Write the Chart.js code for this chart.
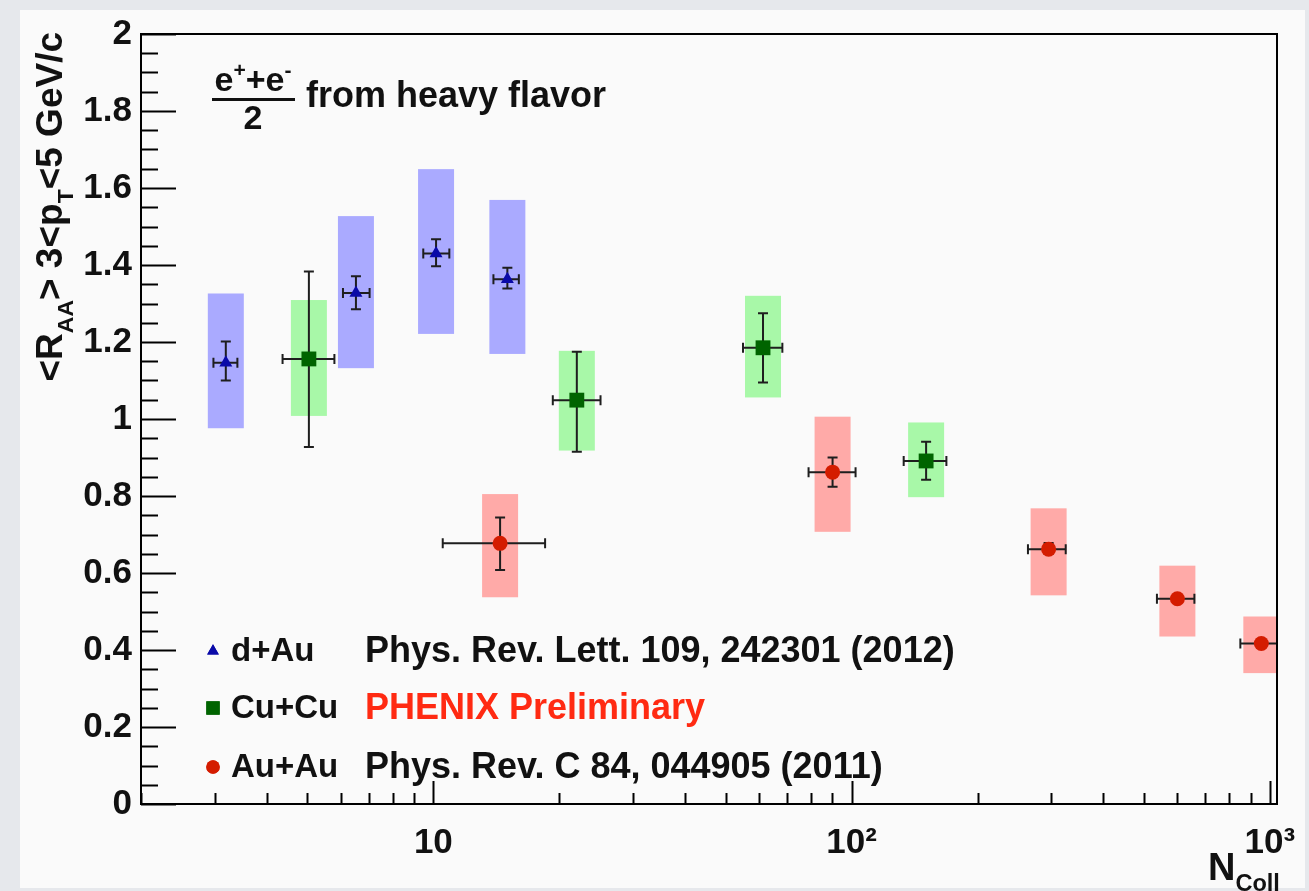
<!DOCTYPE html>
<html>
<head>
<meta charset="utf-8">
<title>RAA vs Ncoll</title>
<script src="https://cdn.jsdelivr.net/npm/chart.js@4.4.0/dist/chart.umd.min.js"></script>
<style>
  html, body { margin: 0; padding: 0; background: #e6e8ec; }
  #panel { position: absolute; left: 20px; top: 10px; width: 1285px; height: 878px; background: #fafafa; }
  #wrap { position: absolute; left: 0; top: 0; width: 1309px; height: 891px; }
</style>
</head>
<body>
<div id="panel"></div>
<div id="wrap"><canvas id="myChart" width="1309" height="891"></canvas></div>
<script>
// d+Au (blue triangles)
var dAuN       = [3.19, 6.53, 10.15, 15.03];
var dAuNLow    = [2.98, 6.08, 9.46, 13.92];
var dAuNHigh   = [3.40, 7.04, 10.92, 16.01];
var dAuR       = [1.146, 1.327, 1.430, 1.363];
var dAuStatLow = [1.100, 1.285, 1.397, 1.339];
var dAuStatHigh= [1.201, 1.371, 1.467, 1.393];
var dAuSysLow  = [0.976, 1.132, 1.221, 1.169];
var dAuSysHigh = [1.326, 1.527, 1.649, 1.569];

// Cu+Cu (green squares)
var cuN       = [5.04, 22.03, 61.4, 150.7];
var cuNLow    = [4.36, 19.3, 55.0, 133.2];
var cuNHigh   = [5.80, 25.1, 68.3, 168.5];
var cuR       = [1.156, 1.049, 1.185, 0.891];
var cuStatLow = [0.927, 0.915, 1.095, 0.842];
var cuStatHigh= [1.383, 1.175, 1.275, 0.941];
var cuSysLow  = [1.008, 0.918, 1.056, 0.797];
var cuSysHigh = [1.309, 1.177, 1.320, 0.991];

// Au+Au (red circles)
var auN       = [14.44, 90.05, 295.8, 601, 954];
var auNLow    = [10.53, 78.9, 264, 537, 850];
var auNHigh   = [18.5, 102.2, 325, 660, 1065];
var auR       = [0.677, 0.862, 0.662, 0.533, 0.417];
var auStatLow = [0.608, 0.824, 0.650, 0.527, 0.411];
var auStatHigh= [0.744, 0.900, 0.678, 0.539, 0.423];
var auSysLow  = [0.537, 0.707, 0.542, 0.435, 0.340];
var auSysHigh = [0.805, 1.006, 0.768, 0.619, 0.487];

var seriesNames = ['d+Au', 'Cu+Cu', 'Au+Au'];
var refTexts    = ['Phys. Rev. Lett. 109, 242301 (2012)', 'PHENIX Preliminary', 'Phys. Rev. C 84, 044905 (2011)'];

var xTickValues = [10, 100, 1000];
var xTickLabels = ['10', '10\u00b2', '10\u00b3'];

var FONT = '"Liberation Sans", Arial, Helvetica, sans-serif';
var BOX_HALF = 18;
var CAP = 5;

var series = [
  { n: dAuN, nLo: dAuNLow, nHi: dAuNHigh, r: dAuR, sLo: dAuStatLow, sHi: dAuStatHigh, yLo: dAuSysLow, yHi: dAuSysHigh, box: '#aaaaff' },
  { n: cuN, nLo: cuNLow, nHi: cuNHigh, r: cuR, sLo: cuStatLow, sHi: cuStatHigh, yLo: cuSysLow, yHi: cuSysHigh, box: '#a8f8a8' },
  { n: auN, nLo: auNLow, nHi: auNHigh, r: auR, sLo: auStatLow, sHi: auStatHigh, yLo: auSysLow, yHi: auSysHigh, box: '#ffaaa8' }
];

function pts(xs, ys) {
  return xs.map(function (x, i) { return { x: x, y: ys[i] }; });
}

// text with sub/superscripts: runs = [[text, 0|1|-1], ...]
function runsWidth(ctx, runs, size) {
  var w = 0;
  runs.forEach(function (r) {
    ctx.font = 'bold ' + (r[1] ? size * 0.62 : size) + 'px ' + FONT;
    w += ctx.measureText(r[0]).width;
  });
  return w;
}
function drawRuns(ctx, x, y, runs, size) {
  var cx = x;
  runs.forEach(function (r) {
    ctx.font = 'bold ' + (r[1] ? size * 0.62 : size) + 'px ' + FONT;
    var dy = r[1] === 1 ? -size * 0.42 : (r[1] === -1 ? size * 0.3 : 0);
    ctx.fillText(r[0], cx, y + dy);
    cx += ctx.measureText(r[0]).width;
  });
}

/*
# boxes (systematics) and error bars, under the markers
*/
var errPlugin = {
  id: 'errPlugin',
  beforeDatasetsDraw: function (chart) {
    var ctx = chart.ctx, xs = chart.scales.x, ys = chart.scales.y, a = chart.chartArea;
    ctx.save();
    ctx.beginPath();
    ctx.rect(a.left, a.top, a.right - a.left, a.bottom - a.top);
    ctx.clip();
    series.forEach(function (s) {
      ctx.fillStyle = s.box;
      s.n.forEach(function (n, i) {
        var px = xs.getPixelForValue(n);
        var t = ys.getPixelForValue(s.yHi[i]), b = ys.getPixelForValue(s.yLo[i]);
        ctx.fillRect(px - BOX_HALF, t, 2 * BOX_HALF, b - t);
      });
    });
    ctx.strokeStyle = '#1e1e1e';
    ctx.lineWidth = 2;
    series.forEach(function (s) {
      s.n.forEach(function (n, i) {
        var px = xs.getPixelForValue(n), py = ys.getPixelForValue(s.r[i]);
        var x1 = xs.getPixelForValue(s.nLo[i]), x2 = xs.getPixelForValue(s.nHi[i]);
        var y1 = ys.getPixelForValue(s.sHi[i]), y2 = ys.getPixelForValue(s.sLo[i]);
        ctx.beginPath();
        ctx.moveTo(x1, py); ctx.lineTo(x2, py);
        ctx.moveTo(x1, py - CAP); ctx.lineTo(x1, py + CAP);
        ctx.moveTo(x2, py - CAP); ctx.lineTo(x2, py + CAP);
        ctx.moveTo(px, y1); ctx.lineTo(px, y2);
        ctx.moveTo(px - CAP, y1); ctx.lineTo(px + CAP, y1);
        ctx.moveTo(px - CAP, y2); ctx.lineTo(px + CAP, y2);
        ctx.stroke();
      });
    });
    ctx.restore();
  },
  afterDraw: function (chart) {
    var ctx = chart.ctx, xs = chart.scales.x, ys = chart.scales.y, a = chart.chartArea;
    ctx.save();
    // frame
    ctx.strokeStyle = '#000';
    ctx.lineWidth = 2;
    ctx.strokeRect(a.left, a.top, a.right - a.left, a.bottom - a.top);
    // y ticks, inward
    ctx.beginPath();
    for (var k = 0; k <= 40; k++) {
      var v = k * 0.05;
      var py = Math.round(ys.getPixelForValue(v)) + 0.5;
      ctx.moveTo(a.left, py);
      ctx.lineTo(a.left + (k % 4 === 0 ? 35 : 17), py);
    }
    // x ticks, inward
    [1, 10, 100, 1000].forEach(function (d) {
      for (var m = 1; m <= 9; m++) {
        var val = m * d;
        if (val < xs.min || val > xs.max) continue;
        var px = Math.round(xs.getPixelForValue(val)) + 0.5;
        ctx.moveTo(px, a.bottom);
        ctx.lineTo(px, a.bottom - (m === 1 ? 23 : 11));
      }
    });
    ctx.stroke();

    // legend
    var rows = [651, 708, 767];
    chart.data.datasets.forEach(function (ds, i) {
      ctx.fillStyle = ds.backgroundColor;
      Chart.helpers.drawPoint(ctx, { pointStyle: ds.pointStyle, radius: ds.pointRadius * 0.9, rotation: 0, borderWidth: 0 }, 213, rows[i]);
      ctx.fill();
      ctx.textBaseline = 'middle';
      ctx.font = 'bold 33px ' + FONT;
      ctx.fillStyle = '#111';
      ctx.fillText(seriesNames[i], 231, rows[i] + 1);
      ctx.font = 'bold 36px ' + FONT;
      ctx.fillStyle = i === 1 ? '#ff2a12' : '#111';
      ctx.fillText(refTexts[i], 365, rows[i] + 1);
    });

    // annotation e+ + e- over 2
    ctx.textBaseline = 'alphabetic';
    ctx.fillStyle = '#111';
    var num = [['e', 0], ['+', 1], ['+e', 0], ['-', 1]];
    var nw = runsWidth(ctx, num, 34);
    drawRuns(ctx, 253 - nw / 2, 91, num, 34);
    ctx.fillRect(212, 98, 83, 3);
    ctx.font = 'bold 34px ' + FONT;
    ctx.textAlign = 'center';
    ctx.fillText('2', 253, 129);
    ctx.textAlign = 'left';
    ctx.font = 'bold 36px ' + FONT;
    ctx.fillText('from heavy flavor', 306, 107);

    // y title, rotated
    var yt = [['<R', 0], ['AA', -1], ['> 3<p', 0], ['T', -1], ['<5 GeV/c', 0]];
    var yw = runsWidth(ctx, yt, 37);
    ctx.save();
    ctx.translate(62, a.top - 2);
    ctx.rotate(-Math.PI / 2);
    drawRuns(ctx, -yw, 0, yt, 37);
    ctx.restore();

    // x title
    drawRuns(ctx, 1208, 880, [['N', 0], ['Coll', -1]], 38);
    ctx.restore();
  }
};

var ctx = document.getElementById('myChart').getContext('2d');
var chart = new Chart(ctx, {
  type: 'scatter',
  data: {
    datasets: [
      { label: seriesNames[0], data: pts(dAuN, dAuR), pointStyle: 'triangle', pointRadius: 7.5, backgroundColor: '#0a0aa8', borderColor: '#0a0aa8', borderWidth: 0 },
      { label: seriesNames[1], data: pts(cuN, cuR), pointStyle: 'rect', pointRadius: 10.5, backgroundColor: '#006400', borderColor: '#006400', borderWidth: 0 },
      { label: seriesNames[2], data: pts(auN, auR), pointStyle: 'circle', pointRadius: 7.5, backgroundColor: '#d41c00', borderColor: '#d41c00', borderWidth: 0 }
    ]
  },
  options: {
    responsive: false,
    animation: false,
    layout: { padding: { left: 0, right: 32, top: 34, bottom: 0 } },
    plugins: { legend: { display: false }, tooltip: { enabled: false } },
    scales: {
      x: {
        type: 'logarithmic',
        min: 2,
        max: 1040,
        grid: { display: false, drawTicks: false },
        border: { display: false },
        afterBuildTicks: function (s) { s.ticks = xTickValues.map(function (v) { return { value: v }; }); },
        afterFit: function (s) { s.height = 87; s.paddingLeft = 0; s.paddingRight = 0; },
        ticks: {
          autoSkip: false, maxRotation: 0, padding: 18, color: '#111',
          font: { family: FONT, weight: 'bold', size: 35 },
          callback: function (v) { var i = xTickValues.indexOf(v); return i < 0 ? '' : xTickLabels[i]; }
        }
      },
      y: {
        min: 0,
        max: 2,
        grid: { display: false, drawTicks: false },
        border: { display: false },
        afterFit: function (s) { s.width = 141; s.paddingTop = 0; s.paddingBottom = 0; },
        ticks: {
          stepSize: 0.2, padding: 9, color: '#111',
          font: { family: FONT, weight: 'bold', size: 35 },
          callback: function (v) { return String(Math.round(v * 10) / 10); }
        }
      }
    }
  },
  plugins: [errPlugin]
});
</script>
</body>
</html>
